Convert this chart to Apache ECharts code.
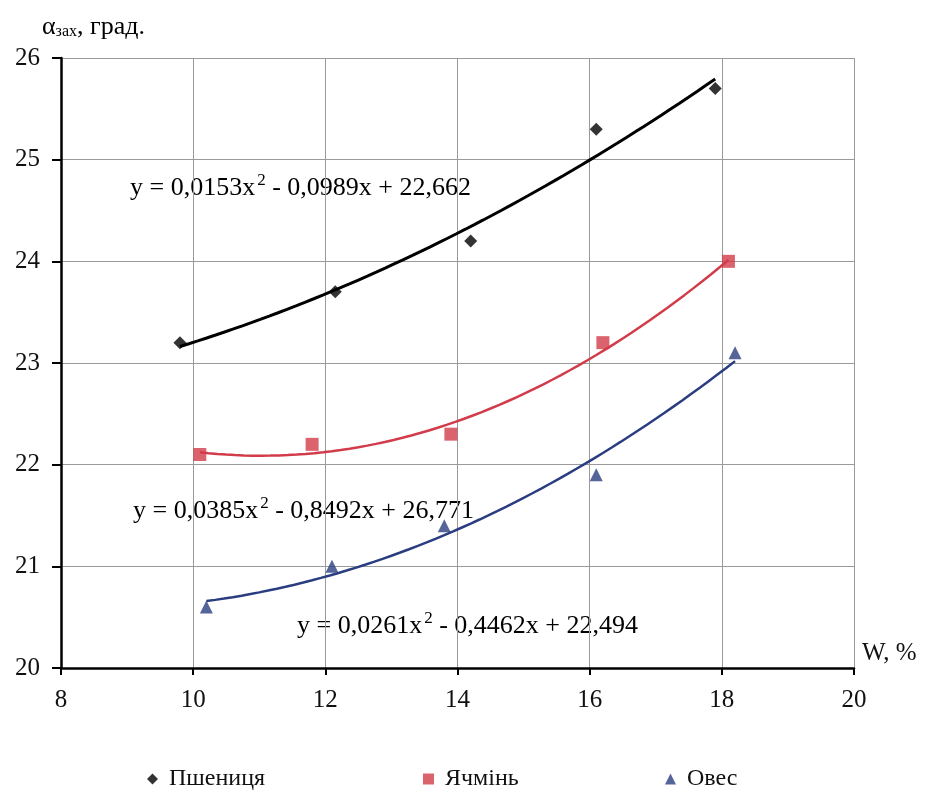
<!DOCTYPE html>
<html>
<head>
<meta charset="utf-8">
<script src="https://cdn.jsdelivr.net/npm/echarts@6/dist/echarts.min.js"></script>
<style>
  html, body { margin: 0; padding: 0; background: #fff; }
  #chart { width: 937px; height: 794px; }
</style>
</head>
<body>
<div id="chart"></div>
<script>
// Measured angle of repose vs. moisture content for three grains
var seriesNames = ['Пшениця', 'Ячмінь', 'Овес'];

var wheatX = [9.8, 12.15, 14.2, 16.1, 17.9];
var wheatY = [23.2, 23.7, 24.2, 25.3, 25.7];

var barleyX = [10.1, 11.8, 13.9, 16.2, 18.1];
var barleyY = [22.1, 22.2, 22.3, 23.2, 24.0];

var oatsX = [10.2, 12.1, 13.8, 16.1, 18.2];
var oatsY = [20.6, 21.0, 21.4, 21.9, 23.1];

// Quadratic trend coefficients [a, b, c] for y = a*x^2 + b*x + c
var wheatFit = [0.0153, -0.0989, 22.662];
var barleyFit = [0.0385, -0.8492, 26.771];
var oatsFit = [0.0261, -0.4462, 22.494];

var xTicks = [8, 10, 12, 14, 16, 18, 20];
var yTicks = [20, 21, 22, 23, 24, 25, 26];

var colors = ['#000000', '#d23c4a', '#2a3d80'];
var FONT = '"Liberation Serif", "Times New Roman", serif';

function pairs(xs, ys) {
  return xs.map(function (x, i) { return [x, ys[i]]; });
}

// Trend curve sampled across the measured range of the series
function trend(coef, xs) {
  var x0 = xs[0], x1 = xs[xs.length - 1];
  var pts = [];
  var n = 60;
  for (var i = 0; i <= n; i++) {
    var x = x0 + (x1 - x0) * i / n;
    pts.push([x, coef[0] * x * x + coef[1] * x + coef[2]]);
  }
  return pts;
}

var chart = echarts.init(document.getElementById('chart'));

var eqRich = {
  t: { fontFamily: FONT, fontSize: 26, color: '#111' },
  s: { fontFamily: FONT, fontSize: 17, color: '#111', padding: [0, 0, 16, 2] }
};

function eqText(coef) {
  function f(v) { return Math.abs(v).toString().replace('.', ','); }
  return '{t|y = ' + f(coef[0]) + 'x}{s|2}{t| ' + (coef[1] < 0 ? '-' : '+') + ' ' + f(coef[1]) +
    'x ' + (coef[2] < 0 ? '-' : '+') + ' ' + f(coef[2]) + '}';
}

var legendBase = {
  orient: 'horizontal',
  itemWidth: 11,
  itemHeight: 11,
  itemGap: 10,
  textStyle: { fontFamily: FONT, fontSize: 24, color: '#111', padding: [0, 0, 0, 6] }
};

chart.setOption({
  animation: false,
  backgroundColor: '#ffffff',
  grid: { left: 61, right: 83, top: 58, bottom: 126, containLabel: false },
  xAxis: {
    type: 'value',
    min: xTicks[0],
    max: xTicks[xTicks.length - 1],
    interval: 2,
    name: 'W, %',
    nameLocation: 'end',
    nameGap: 8,
    nameTextStyle: { fontFamily: FONT, fontSize: 25, color: '#111', verticalAlign: 'bottom', padding: [0, 0, 2, 0] },
    axisLine: { show: true, lineStyle: { color: '#000', width: 2.5 } },
    axisTick: { show: true, inside: false, length: 7, lineStyle: { color: '#000', width: 2 } },
    axisLabel: { margin: 20, fontFamily: FONT, fontSize: 25, color: '#111' },
    splitLine: { show: true, lineStyle: { color: '#9a9a9a', width: 1 } }
  },
  yAxis: {
    type: 'value',
    min: yTicks[0],
    max: yTicks[yTicks.length - 1],
    interval: 1,
    axisLine: { show: true, lineStyle: { color: '#000', width: 2.5 } },
    axisTick: { show: true, inside: false, length: 9, lineStyle: { color: '#000', width: 2 } },
    axisLabel: { margin: 21, fontFamily: FONT, fontSize: 25, color: '#111' },
    splitLine: { show: true, lineStyle: { color: '#9a9a9a', width: 1 } }
  },
  legend: [
    Object.assign({}, legendBase, { left: 142, top: 762, data: [{ name: seriesNames[0], icon: 'diamond' }] }),
    Object.assign({}, legendBase, { left: 418, top: 762, data: [{ name: seriesNames[1], icon: 'rect' }] }),
    Object.assign({}, legendBase, { left: 660, top: 762, data: [{ name: seriesNames[2], icon: 'triangle' }] })
  ],
  graphic: [
    {
      type: 'text', left: 42, top: 14,
      style: {
        text: '{a|α}{s|зах}{a|, град.}',
        rich: {
          a: { fontFamily: FONT, fontSize: 26, color: '#111' },
          s: { fontFamily: FONT, fontSize: 16, color: '#111', padding: [9, 0, 0, 0] }
        }
      }
    },
    { type: 'text', left: 130, top: 172, style: { text: eqText(wheatFit), rich: eqRich } },
    { type: 'text', left: 133, top: 495, style: { text: eqText(barleyFit), rich: eqRich } },
    { type: 'text', left: 297, top: 610, style: { text: eqText(oatsFit), rich: eqRich } }
  ],
  series: [
    {
      name: seriesNames[0], type: 'scatter', symbol: 'diamond', symbolSize: 13,
      itemStyle: { color: colors[0] }, data: pairs(wheatX, wheatY), z: 5
    },
    {
      name: seriesNames[1], type: 'scatter', symbol: 'rect', symbolSize: 13,
      itemStyle: { color: colors[1] }, data: pairs(barleyX, barleyY), z: 5
    },
    {
      name: seriesNames[2], type: 'scatter', symbol: 'triangle', symbolSize: 13,
      itemStyle: { color: colors[2] }, data: pairs(oatsX, oatsY), z: 5
    },
    {
      name: 'trend-wheat', type: 'line', showSymbol: false, silent: true,
      lineStyle: { color: colors[0], width: 3 }, data: trend(wheatFit, wheatX), z: 3
    },
    {
      name: 'trend-barley', type: 'line', showSymbol: false, silent: true,
      lineStyle: { color: colors[1], width: 2.5 }, data: trend(barleyFit, barleyX), z: 3
    },
    {
      name: 'trend-oats', type: 'line', showSymbol: false, silent: true,
      lineStyle: { color: colors[2], width: 2.5 }, data: trend(oatsFit, oatsX), z: 3
    }
  ]
});
</script>
</body>
</html>
